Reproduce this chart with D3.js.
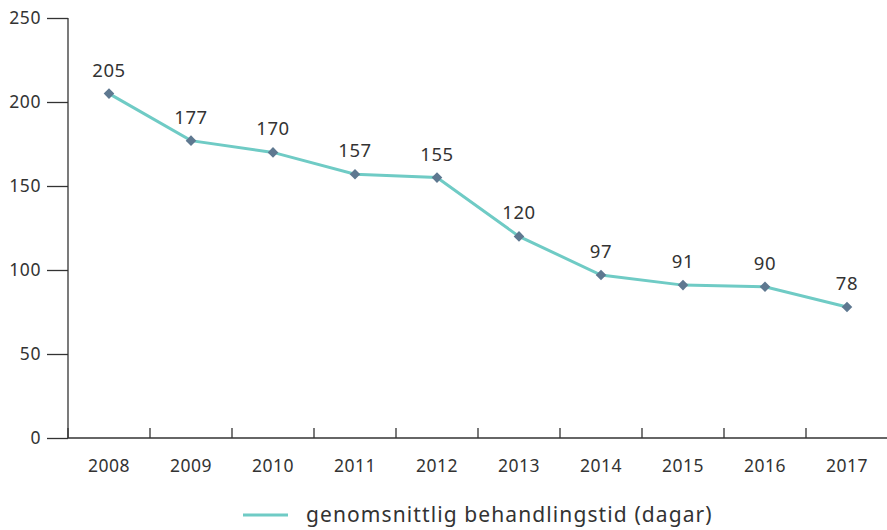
<!DOCTYPE html>
<html><head><meta charset="utf-8">
<script src="https://cdn.jsdelivr.net/npm/d3@7"></script>
<style>body{margin:0;background:#fff}svg{display:block}text{font-family:"Noto Sans",Lato,sans-serif;fill:#333}</style>
</head><body><svg id="c" width="887" height="530"></svg>
<script>
const years = ["2008","2009","2010","2011","2012","2013","2014","2015","2016","2017"];
const values = [205,177,170,157,155,120,97,91,90,78];
const yTicks = [0,50,100,150,200,250];
const seriesName = "genomsnittlig behandlingstid (dagar)";

const svg = d3.select("#c");
const x = d3.scaleBand().domain(years).range([68,888]);
const y = d3.scaleLinear().domain([0,250]).range([438,18]);
const axisColor = "#333";

// Y axis
const ya = svg.append("g").attr("transform","translate(68,0)")
  .call(d3.axisLeft(y).tickValues(yTicks).tickSize(21).tickPadding(6));
ya.select(".domain").attr("stroke",axisColor).attr("stroke-width",1.3).attr("d","M0,18V438");
ya.selectAll(".tick line").attr("stroke",axisColor).attr("stroke-width",1.3);
ya.selectAll(".tick text").style("font-size","17.5px").style("letter-spacing","0.6px").attr("fill","#333");

// X axis
const xa = svg.append("g").attr("transform","translate(0,438)")
  .call(d3.axisBottom(x).tickSize(0).tickPadding(22));
xa.select(".domain").attr("stroke",axisColor).attr("stroke-width",1.3).attr("d","M68,0H888");
xa.selectAll(".tick text").style("font-size","17.5px").style("letter-spacing","0.5px").attr("fill","#333");
xa.selectAll(".bt").data(years).enter().append("line")
  .attr("x1",d=>x(d)).attr("x2",d=>x(d)).attr("y1",0).attr("y2",-10)
  .attr("stroke",axisColor).attr("stroke-width",1.3);

// Line
const line = d3.line().x((d,i)=>x(years[i])+x.bandwidth()/2).y(d=>y(d));
svg.append("path").datum(values).attr("d",line).attr("fill","none")
  .attr("stroke","#6fcbc5").attr("stroke-width",3);

// Markers
svg.selectAll(".m").data(values).enter().append("path")
  .attr("d",d3.symbol(d3.symbolSquare,56))
  .attr("transform",(d,i)=>`translate(${x(years[i])+x.bandwidth()/2},${y(d)}) rotate(45)`)
  .attr("fill","#5e7890");

// Labels
svg.selectAll(".l").data(values).enter().append("text")
  .attr("x",(d,i)=>x(years[i])+x.bandwidth()/2).attr("y",d=>y(d)-17)
  .attr("text-anchor","middle").style("font-size","18.5px").style("letter-spacing","0.6px").text(d=>d);

// Legend
svg.append("line").attr("x1",243).attr("x2",288).attr("y1",515).attr("y2",515)
  .attr("stroke","#6fcbc5").attr("stroke-width",3);
svg.append("text").attr("x",306).attr("y",522).style("font-size","21px").style("letter-spacing","1.1px").text(seriesName);
</script></body></html>
